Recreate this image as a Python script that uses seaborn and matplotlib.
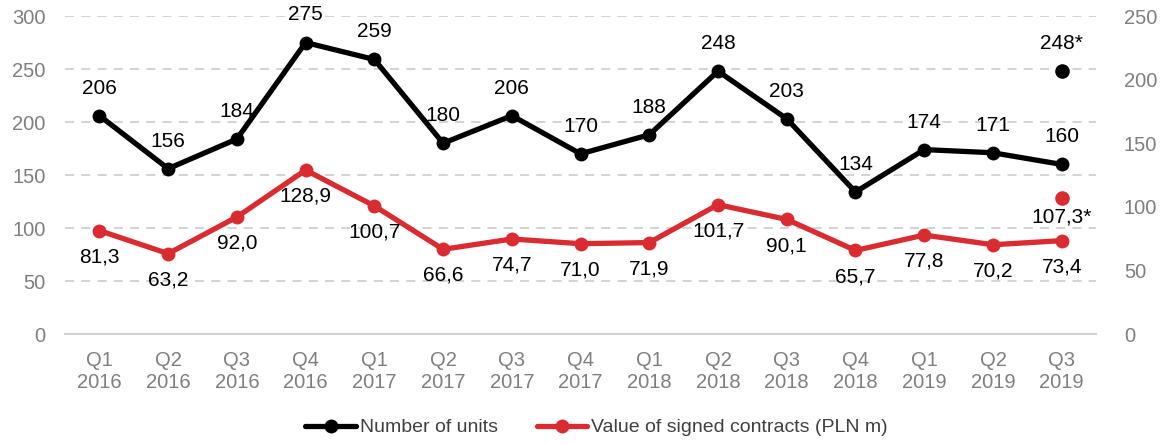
import matplotlib
matplotlib.use("Agg")
import matplotlib.pyplot as plt
import seaborn as sns
import numpy as np
import pandas as pd

quarters = ["Q1\n2016", "Q2\n2016", "Q3\n2016", "Q4\n2016",
            "Q1\n2017", "Q2\n2017", "Q3\n2017", "Q4\n2017",
            "Q1\n2018", "Q2\n2018", "Q3\n2018", "Q4\n2018",
            "Q1\n2019", "Q2\n2019", "Q3\n2019"]
units = [206, 156, 184, 275, 259, 180, 206, 170, 188, 248, 203, 134, 174, 171, 160]
value_pln = [81.3, 63.2, 92.0, 128.9, 100.7, 66.6, 74.7, 71.0, 71.9, 101.7, 90.1, 65.7, 77.8, 70.2, 73.4]
extra_units = 248
extra_value = 107.3

BLACK = "#000000"
RED = "#d92b30"
GREY = "#7f7f7f"
GRID = "#d0d0d0"

sns.set_theme(style="white")
plt.rcParams["font.family"] = ["Liberation Sans", "DejaVu Sans"]

df = pd.DataFrame({"pos": np.arange(len(quarters)), "units": units, "value": value_pln})

fig = plt.figure(figsize=(11.7, 4.44), dpi=100)
ax = fig.add_axes([0.0556, 0.2477, 0.8812, 0.7162])
ax2 = ax.twinx()

sns.lineplot(data=df, x="pos", y="units", ax=ax, color=BLACK, linewidth=3.8,
             marker="o", markersize=10, markeredgewidth=0, label="Number of units",
             legend=False)
sns.lineplot(data=df, x="pos", y="value", ax=ax2, color=RED, linewidth=3.8,
             marker="o", markersize=10, markeredgewidth=0,
             label="Value of signed contracts (PLN m)", legend=False)

last = len(quarters) - 1
sns.scatterplot(x=[last], y=[extra_units], ax=ax, color=BLACK, s=110, linewidth=0, legend=False)
sns.scatterplot(x=[last], y=[extra_value], ax=ax2, color=RED, s=110, linewidth=0, legend=False)

def fmt(v):
    return f"{v:.1f}".replace(".", ",")

label_fs = 15
for i, v in enumerate(units):
    ax.annotate(str(v), (i, v), xytext=(0, 13), textcoords="offset points",
                ha="center", va="bottom", fontsize=label_fs, color=BLACK)
for i, v in enumerate(value_pln):
    ax2.annotate(fmt(v), (i, v), xytext=(0, -12), textcoords="offset points",
                 ha="center", va="top", fontsize=label_fs, color=BLACK)
ax.annotate(f"{extra_units}*", (last, extra_units), xytext=(0, 13), textcoords="offset points",
            ha="center", va="bottom", fontsize=label_fs, color=BLACK)
ax2.annotate(f"{fmt(extra_value)}*", (last, extra_value), xytext=(0, -7), textcoords="offset points",
             ha="center", va="top", fontsize=label_fs, color=BLACK)

ax.set_xlim(-0.5, last + 0.5)
ax.set_ylim(0, 300)
ax2.set_ylim(0, 250)
ax.set_yticks(np.arange(0, 301, 50))
ax2.set_yticks(np.arange(0, 251, 50))
ax.set_xticks(np.arange(len(quarters)))
ax.set_xticklabels(quarters)
ax.set_xticks(np.arange(-0.5, last + 1, 1), minor=True)

for a in (ax, ax2):
    a.set_xlabel("")
    a.set_ylabel("")
    for s in a.spines.values():
        s.set_visible(False)
    a.grid(False)
ax.spines["bottom"].set_visible(True)
ax.spines["bottom"].set_color(GRID)
ax.spines["bottom"].set_linewidth(1.5)

for y in np.arange(50, 301, 50):
    ax.axhline(y, color=GRID, linewidth=1.3, linestyle=(0, (5, 4)), zorder=0)

ax.tick_params(axis="x", which="major", length=0, pad=12, labelsize=14.5, labelcolor=GREY)
ax.tick_params(axis="x", which="minor", length=6, width=1.5, color=GRID, direction="out")
ax.tick_params(axis="y", length=0, pad=14, labelsize=14.5, labelcolor=GREY)
ax2.tick_params(axis="y", length=0, pad=20, labelsize=14.5, labelcolor=GREY)

handles = [ax.get_lines()[0], ax2.get_lines()[0]]
fig.legend(handles, ["Number of units", "Value of signed contracts (PLN m)"],
           loc="center", bbox_to_anchor=(0.51, 0.037), ncol=2, frameon=False,
           fontsize=14, labelcolor="#404040", handlelength=2.6, handletextpad=0.2,
           columnspacing=2.0)

fig.savefig("out.png", dpi=100)
